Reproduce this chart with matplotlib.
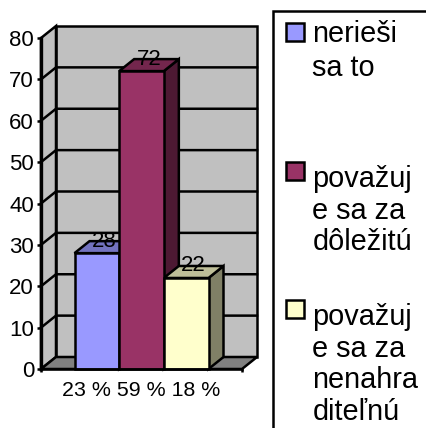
import matplotlib
matplotlib.use('Agg')
import matplotlib.pyplot as plt
from matplotlib.patches import Polygon, Rectangle

plt.rcParams['font.family'] = ['Liberation Sans', 'DejaVu Sans']

# chart values
series_names = ['nerieši\nsa to', 'považuj\ne sa za\ndôležitú', 'považuj\ne sa za\nnenahra\nditeľnú']
series_values = [28, 72, 22]
category_labels = ['23 % 59 % 18 %']
y_ticks = [0, 10, 20, 30, 40, 50, 60, 70, 80]

front_colors = ['#9999FF', '#993366', '#FFFFCC']
top_colors = ['#7373BF', '#73264D', '#BFBF99']
side_colors = ['#4D4D80', '#4D1933', '#808066']

W, H = 426, 428
LW = 1.8

fig = plt.figure(figsize=(W / 100, H / 100), dpi=100)
ax = fig.add_axes([41 / W, (H - 369) / H, 201 / W, 331 / H])
ax.set_xlim(-2.25, 2.25)
ax.set_ylim(0, 80)

# 3d depth in data units
dx = 15 / (201 / 4.5)
dy = 12 / (331 / 80)
x0, x1 = ax.get_xlim()
y0, y1 = ax.get_ylim()


def poly(pts, color, z=1):
    ax.add_patch(Polygon(pts, closed=True, facecolor=color, edgecolor='black',
                         linewidth=LW, clip_on=False, zorder=z, joinstyle='miter'))


# walls and floor
poly([(x0 + dx, y0 + dy), (x1 + dx, y0 + dy), (x1 + dx, y1 + dy), (x0 + dx, y1 + dy)], '#C0C0C0')
poly([(x0, y0), (x0 + dx, y0 + dy), (x0 + dx, y1 + dy), (x0, y1)], '#C0C0C0')
poly([(x0, y0), (x1, y0), (x1 + dx, y0 + dy), (x0 + dx, y0 + dy)], '#808080')

# gridlines on the walls
for t in y_ticks[1:-1]:
    ax.plot([x0, x0 + dx, x1 + dx], [t, t + dy, t + dy], color='black', lw=LW,
            clip_on=False, zorder=2)

# bars
for i, v in enumerate(series_values):
    l = i - 1.5
    r = i - 0.5
    poly([(r, 0), (r + dx, dy), (r + dx, v + dy), (r, v)], side_colors[i], 3)
    poly([(l, v), (r, v), (r + dx, v + dy), (l + dx, v + dy)], top_colors[i], 3)
    poly([(l, 0), (r, 0), (r, v), (l, v)], front_colors[i], 4)

# value labels sit on the back top edge
for i, v in enumerate(series_values):
    ax.text(i - 1 + dx / 2, v + dy, str(v), ha='center', va='center', fontsize=16,
            color='black', zorder=6)

# axes
ax.patch.set_visible(False)
for s in ['top', 'right']:
    ax.spines[s].set_visible(False)
ax.spines['left'].set_linewidth(2.4)
ax.spines['bottom'].set_linewidth(LW)
ax.spines['left'].set_zorder(5)
ax.spines['bottom'].set_zorder(5)
ax.set_yticks(y_ticks)
ax.set_xticks([x0, x1])
ax.set_xticklabels(['', ''])
ax.tick_params(axis='y', length=3, width=LW, labelsize=16, pad=2)
ax.tick_params(axis='x', length=2, width=LW)
ax.text(0, -0.066, category_labels[0], transform=ax.get_xaxis_transform(), ha='center',
        va='center', fontsize=15.4)

# legend, drawn in pixel coordinates
leg = fig.add_axes([0, 0, 1, 1])
leg.set_xlim(0, W)
leg.set_ylim(H, 0)
leg.axis('off')
leg.patch.set_visible(False)
leg.add_patch(Rectangle((273, 11), 170, 430, facecolor='white', edgecolor='black',
                        linewidth=LW))
swatch_y = [23, 162, 300]
label_y = [20, 165, 303]
label_spacing = [1.28, 1.16, 1.16]
for i, name in enumerate(series_names):
    leg.add_patch(Rectangle((286, swatch_y[i]), 18, 18, facecolor=front_colors[i],
                            edgecolor='black', linewidth=LW))
    leg.text(312.5, label_y[i], name, fontsize=20.8, va='top', ha='left',
             linespacing=label_spacing[i])

fig.savefig('out.png', dpi=100)
